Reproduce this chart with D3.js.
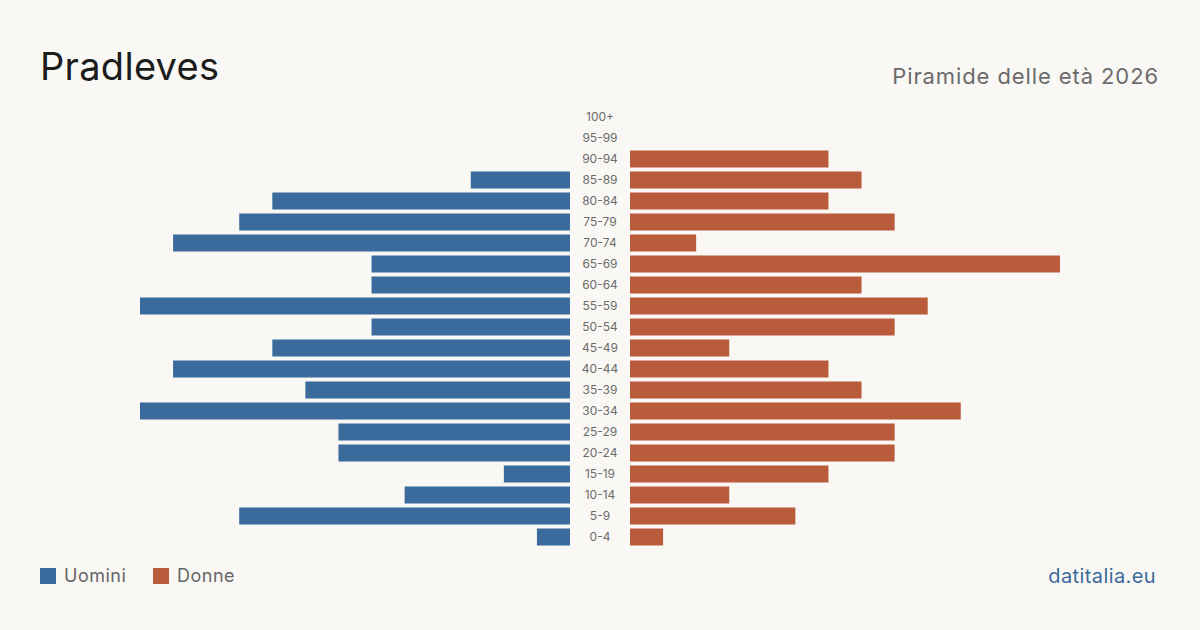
<!DOCTYPE html>
<html>
<head>
<meta charset="utf-8">
<script src="https://cdn.jsdelivr.net/npm/d3@7/dist/d3.min.js"></script>
<style>
  html, body { margin: 0; padding: 0; background: #f9f8f4; }
  svg { display: block; font-family: Inter, "Noto Sans", sans-serif; }
</style>
</head>
<body>
<svg id="chart" width="1200" height="630"></svg>
<script>
// Age classes, top to bottom
const ageGroups = ["100+", "95-99", "90-94", "85-89", "80-84", "75-79", "70-74", "65-69",
  "60-64", "55-59", "50-54", "45-49", "40-44", "35-39", "30-34", "25-29",
  "20-24", "15-19", "10-14", "5-9", "0-4"];
const men   = [0, 0, 0, 3, 9, 10, 12, 6, 6, 13, 6, 9, 12, 8, 13, 7, 7, 2, 5, 10, 1];
const women = [0, 0, 6, 7, 6, 8, 2, 13, 7, 9, 8, 3, 6, 7, 10, 8, 8, 6, 3, 5, 1];

const maleColor = "#3a6b9c";
const femaleColor = "#b95c3b";
const W = 1200, H = 630;
const center = 600, gap = 30, halfWidth = 430;

const svg = d3.select("#chart");

svg.append("rect").attr("width", W).attr("height", H).attr("fill", "#f9f8f4");

// Title + subtitle
svg.append("text")
  .attr("x", 40).attr("y", 80)
  .attr("font-size", 38).attr("fill", "#1c1c1c")
  .attr("letter-spacing", 0.3)
  .text("Pradleves");

svg.append("text")
  .attr("x", 1159).attr("y", 84)
  .attr("text-anchor", "end")
  .attr("font-size", 22).attr("fill", "#6b6b6b")
  .attr("letter-spacing", 0.9)
  .text("Piramide delle età 2026");

// Scales
const maxVal = d3.max([...men, ...women]);
const y = d3.scaleBand()
  .domain(ageGroups)
  .range([106.5, 547.5])
  .paddingInner(0.19)
  .paddingOuter(0.095);
const xLen = d3.scaleLinear().domain([0, maxVal]).range([0, halfWidth]);

const rows = ageGroups.map((g, i) => ({ group: g, m: men[i], f: women[i] }));

// Male bars (left)
svg.append("g").selectAll("rect")
  .data(rows)
  .join("rect")
  .attr("x", d => center - gap - xLen(d.m))
  .attr("y", d => y(d.group))
  .attr("width", d => xLen(d.m))
  .attr("height", y.bandwidth())
  .attr("fill", maleColor);

// Female bars (right)
svg.append("g").selectAll("rect")
  .data(rows)
  .join("rect")
  .attr("x", center + gap)
  .attr("y", d => y(d.group))
  .attr("width", d => xLen(d.f))
  .attr("height", y.bandwidth())
  .attr("fill", femaleColor);

// Age labels in the middle
svg.append("g").selectAll("text")
  .data(ageGroups)
  .join("text")
  .attr("x", center)
  .attr("y", d => y(d) + y.bandwidth() / 2)
  .attr("dy", "0.36em")
  .attr("text-anchor", "middle")
  .attr("font-size", 12)
  .attr("fill", "#6b6b6b")
  .text(d => d);

// Legend
const legend = [{ label: "Uomini", color: maleColor, x: 40 }, { label: "Donne", color: femaleColor, x: 153 }];
const lg = svg.append("g").selectAll("g").data(legend).join("g")
  .attr("transform", d => `translate(${d.x},568)`);
lg.append("rect").attr("width", 16).attr("height", 16).attr("fill", d => d.color);
lg.append("text")
  .attr("x", 24).attr("y", 8).attr("dy", "0.36em")
  .attr("font-size", 18).attr("fill", "#666")
  .attr("letter-spacing", 0.5)
  .text(d => d.label);

// Source
svg.append("text")
  .attr("x", 1156).attr("y", 583)
  .attr("text-anchor", "end")
  .attr("font-size", 20).attr("fill", "#3a6b9c")
  .attr("letter-spacing", 0.4)
  .text("datitalia.eu");
</script>
</body>
</html>
